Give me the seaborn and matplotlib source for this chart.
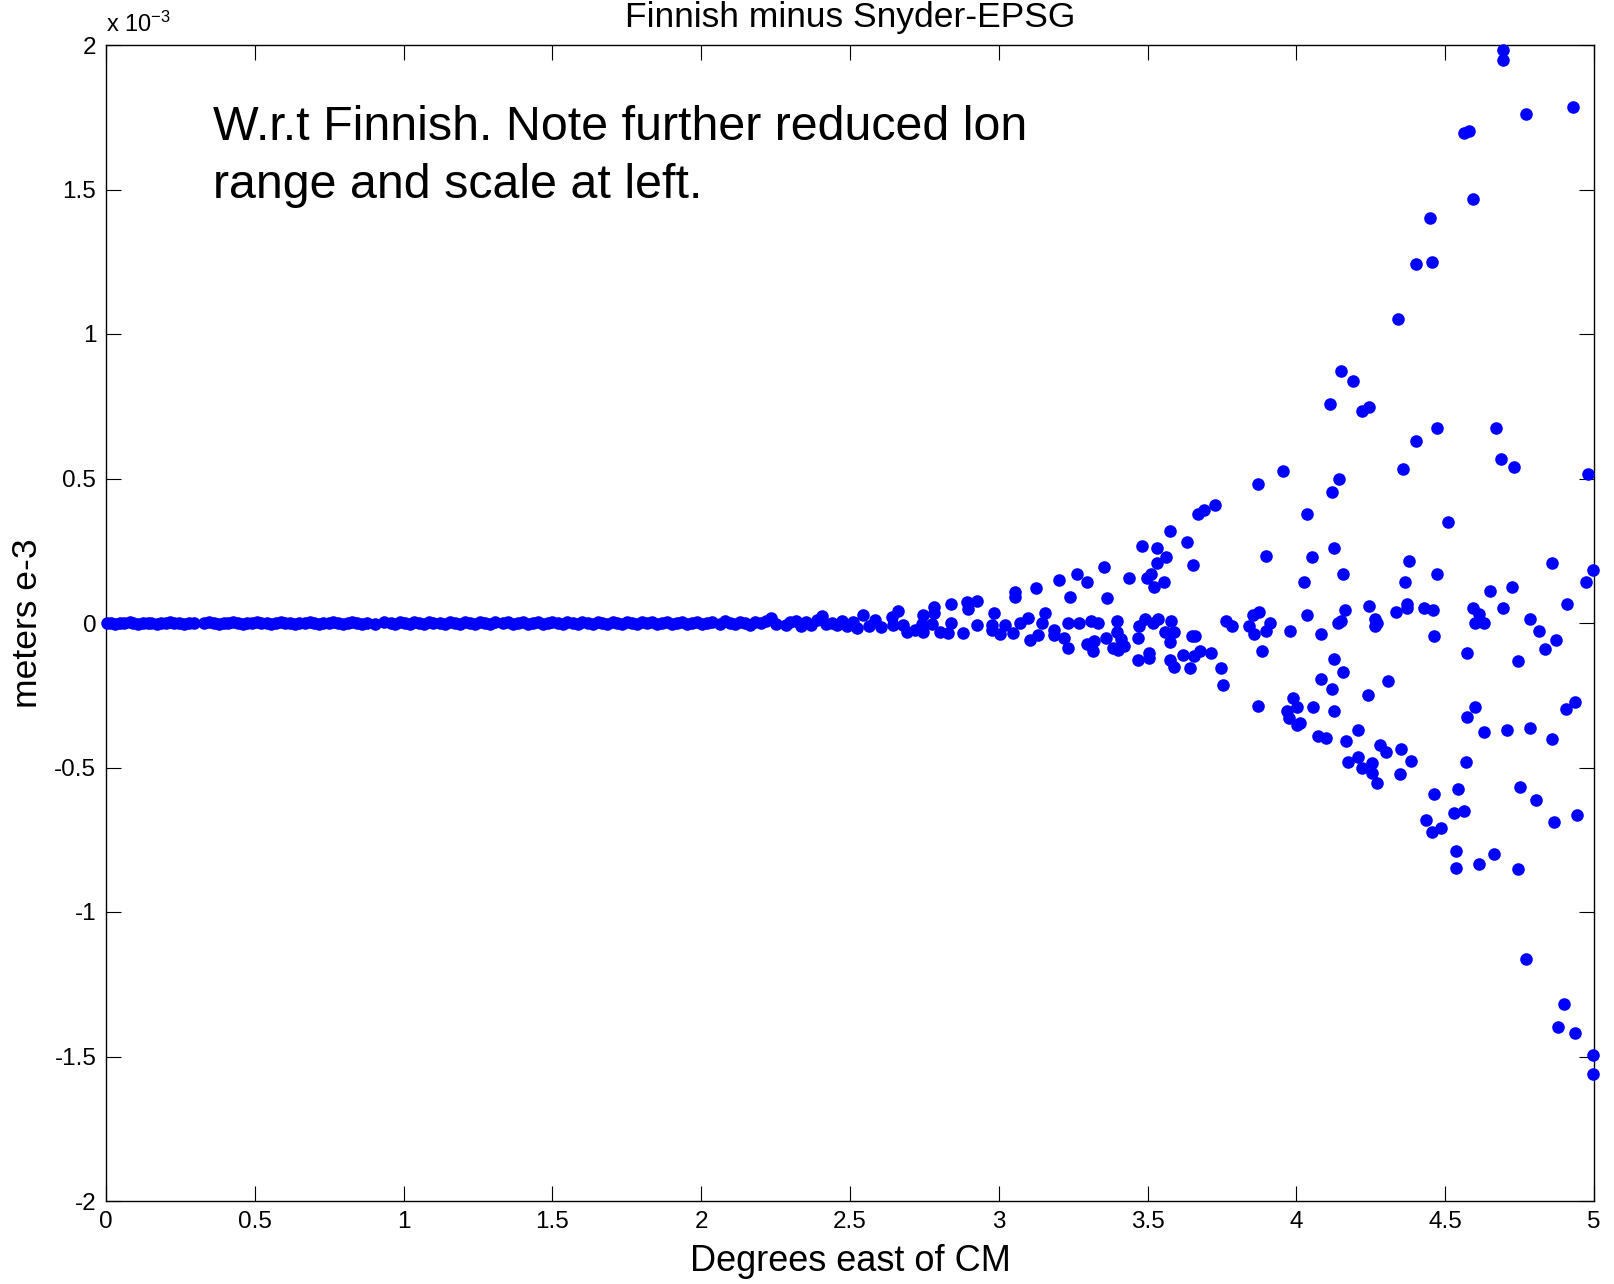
import matplotlib
matplotlib.use("Agg")
import matplotlib.pyplot as plt
import numpy as np
import pandas as pd
import seaborn as sns
from matplotlib.ticker import FuncFormatter

# ---------------- data (deviation in units of 1e-3 m) ----------------
# near-zero band, 0 - 2.5 degrees
lon_band = [
    0.003, 0.018, 0.030, 0.047, 0.062, 0.080, 0.092, 0.108, 0.125, 0.140,
    0.152, 0.170, 0.186, 0.200, 0.215, 0.228, 0.245, 0.262, 0.278, 0.295,
    0.330, 0.346, 0.362, 0.380, 0.395, 0.410, 0.428, 0.442, 0.460, 0.475,
    0.490, 0.508, 0.522, 0.540, 0.556, 0.570, 0.588, 0.603, 0.618, 0.636,
    0.650, 0.668, 0.684, 0.700, 0.716, 0.730, 0.748, 0.763, 0.780, 0.796,
    0.812, 0.828, 0.845, 0.860, 0.878,
    0.905, 0.935, 0.958, 0.972, 0.988, 1.005, 1.020, 1.035, 1.052, 1.068,
    1.085, 1.100,
    1.122, 1.140, 1.155, 1.172, 1.190, 1.205, 1.222, 1.240, 1.258, 1.275,
    1.292, 1.308,
    1.335, 1.350, 1.368, 1.385, 1.400, 1.418, 1.435, 1.452, 1.468, 1.485,
    1.500, 1.518, 1.535, 1.550, 1.568, 1.585, 1.600, 1.618, 1.635, 1.652,
    1.668, 1.685, 1.702, 1.718, 1.735, 1.752, 1.768, 1.785, 1.802, 1.818,
    1.835, 1.852, 1.868, 1.885, 1.902, 1.918, 1.935, 1.952, 1.968, 1.985,
    2.002, 2.020, 2.035,
    2.062, 2.080, 2.096, 2.112, 2.130, 2.148, 2.165, 2.182, 2.200, 2.218,
    2.236, 2.250,
    2.285, 2.300, 2.318, 2.335, 2.352, 2.370, 2.388, 2.405, 2.420, 2.438,
    2.455, 2.472, 2.490,
]
dev_band = [
    0.000, 0.000, -0.003, 0.000, 0.000, 0.002, 0.000, -0.002, 0.000, 0.000,
    0.000, -0.002, 0.000, 0.000, 0.002, 0.000, 0.000, -0.002, 0.000, 0.000,
    0.000, 0.002, 0.000, -0.002, 0.000, 0.000, 0.003, 0.000, -0.002, 0.000,
    0.000, 0.002, 0.000, 0.000, -0.003, 0.000, 0.002, 0.000, 0.000, -0.002,
    0.000, 0.000, 0.003, 0.000, -0.002, 0.000, 0.000, 0.002, 0.000, -0.003,
    0.000, 0.002, 0.000, -0.002, 0.000,
    -0.004, 0.004, 0.000, -0.003, 0.002, 0.000, -0.003, 0.003, 0.000, -0.002,
    0.003, 0.000,
    0.000, -0.003, 0.003, 0.000, -0.002, 0.004, 0.000, -0.003, 0.002, 0.000,
    -0.004, 0.003,
    0.000, 0.003, -0.002, 0.000, 0.004, -0.003, 0.000, 0.002, -0.004, 0.000,
    0.003, 0.000, -0.003, 0.004, 0.000, -0.002, 0.003, 0.000, -0.004, 0.002,
    0.000, -0.003, 0.004, 0.000, -0.002, 0.003, 0.000, -0.004, 0.002, 0.000,
    0.004, -0.003, 0.000, 0.002, -0.004, 0.000, 0.003, -0.002, 0.000, 0.004,
    -0.003, 0.000, 0.003,
    -0.004, 0.006, 0.000, -0.005, 0.004, 0.000, -0.006, 0.005, 0.000, 0.008,
    0.018, -0.004,
    -0.008, 0.004, 0.006, -0.010, 0.002, -0.006, 0.010, 0.024, -0.004, 0.000,
    -0.008, 0.006, -0.012,
]

# transition zone, 2.5 - 3.17 degrees
lon_mid = [
    2.511, 2.522, 2.545, 2.565, 2.584, 2.603, 2.640, 2.646, 2.662, 2.679,
    2.690, 2.718, 2.741, 2.746, 2.746, 2.774, 2.783, 2.783, 2.802, 2.830,
    2.839, 2.839, 2.879, 2.892, 2.898, 2.926, 2.926, 2.976, 2.976, 2.985,
    3.004, 3.021, 3.049, 3.054, 3.054, 3.071, 3.099, 3.105, 3.125, 3.133,
    3.144, 3.156,
]
dev_mid = [
    0.004, -0.019, 0.029, -0.011, 0.010, -0.013, 0.021, -0.007, 0.042, -0.007,
    -0.031, -0.025, -0.002, 0.029, -0.031, -0.002, 0.056, 0.036, -0.031, -0.033,
    0.065, 0.000, -0.033, 0.071, 0.050, 0.076, -0.007, -0.007, -0.025, 0.033,
    -0.038, -0.007, -0.033, 0.107, 0.090, 0.000, 0.016, -0.059, 0.122, -0.040,
    0.000, 0.033,
]

# widening fan, 3.17 - 5 degrees
lon_fan = [
    # upper branch
    4.695, 4.695, 4.929, 4.771, 4.562, 4.580, 4.595, 4.448, 4.402, 4.456,
    4.341, 4.151, 4.189, 4.114, 4.221, 4.245, 4.473, 4.670, 4.402,
    4.689, 4.732, 4.359, 4.980, 3.954, 3.872, 4.144, 4.120, 3.726, 3.688,
    3.669, 4.036, 4.510, 3.575, 3.631, 3.480, 3.530, 3.897, 4.126, 4.054,
    4.378, 4.859, 3.651, 3.561, 3.530, 3.352, 4.998, 4.157, 4.473, 3.264,
    3.201, 3.295, 3.436, 3.498, 3.512, 3.556, 4.024, 4.366, 4.973, 3.523,
    4.726, 4.650, 3.240, 3.365, 4.910, 4.245, 4.371, 4.371, 4.695, 4.430,
    4.458, 4.593, 4.163, 4.334, 3.873, 3.853, 4.036, 4.613, 4.264, 4.784,
    # around zero
    3.763, 3.911, 4.149, 4.141, 4.271, 4.600, 4.632, 3.232, 3.271, 3.309,
    3.334, 3.397, 3.491, 3.535, 3.579, 3.472, 3.517, 3.782, 3.840, 4.265,
    3.898, 3.979, 4.816, 3.184, 3.184, 3.397, 3.559, 3.588, 3.859, 4.081,
    4.462, 4.873, 3.220, 3.467, 3.649, 3.659, 3.359, 3.409, 3.575, 3.295,
    3.321, 3.422, 3.232, 3.385, 3.402, 4.835, 3.316, 3.884, 4.574, 3.676,
    3.714, 3.619, 3.655, 3.504, 3.504, 3.468, 3.575, 4.126, 4.745, 3.588,
    # lower branch
    3.643, 3.746, 4.157, 4.308, 4.081, 3.752, 4.120, 4.239, 3.987, 3.872,
    4.056, 4.126, 4.001, 3.970, 3.976, 4.001, 4.012, 4.601, 4.574, 4.936,
    4.905, 4.632, 4.707, 4.784, 4.859, 4.208, 4.074, 4.100, 4.168, 4.282,
    4.302, 4.353, 4.384, 4.569, 4.175, 4.208, 4.253, 4.221, 4.347, 4.253,
    4.271, 4.462, 4.543, 4.752, 4.804, 4.529, 4.563, 4.435, 4.454, 4.486,
    4.865, 4.942, 4.537, 4.664, 4.613, 4.537, 4.745, 4.771, 4.898, 4.878,
    4.936, 4.998, 4.998,
]
dev_fan = [
    1.983, 1.949, 1.786, 1.761, 1.694, 1.703, 1.468, 1.403, 1.241, 1.248,
    1.052, 0.872, 0.837, 0.759, 0.732, 0.748, 0.675, 0.675, 0.629,
    0.566, 0.540, 0.533, 0.514, 0.526, 0.480, 0.500, 0.455, 0.410, 0.390,
    0.377, 0.377, 0.351, 0.318, 0.279, 0.266, 0.260, 0.233, 0.260, 0.228,
    0.215, 0.208, 0.201, 0.228, 0.208, 0.195, 0.183, 0.169, 0.169, 0.169,
    0.149, 0.143, 0.156, 0.156, 0.169, 0.143, 0.143, 0.143, 0.143, 0.123,
    0.123, 0.110, 0.091, 0.085, 0.066, 0.059, 0.066, 0.051, 0.053, 0.053,
    0.046, 0.053, 0.046, 0.039, 0.039, 0.026, 0.026, 0.032, 0.014, 0.013,
    0.007, 0.000, 0.007, 0.000, 0.000, 0.000, 0.000, 0.000, 0.000, 0.007,
    0.000, 0.007, 0.014, 0.014, 0.007, -0.011, 0.000, -0.011, -0.011, -0.011,
    -0.026, -0.026, -0.026, -0.024, -0.041, -0.032, -0.032, -0.032, -0.039, -0.039,
    -0.046, -0.059, -0.053, -0.052, -0.046, -0.046, -0.052, -0.056, -0.066, -0.071,
    -0.064, -0.078, -0.085, -0.085, -0.092, -0.091, -0.098, -0.098, -0.105, -0.098,
    -0.105, -0.110, -0.114, -0.105, -0.121, -0.128, -0.128, -0.124, -0.130, -0.151,
    -0.156, -0.156, -0.168, -0.201, -0.194, -0.215, -0.228, -0.248, -0.260, -0.286,
    -0.292, -0.306, -0.292, -0.306, -0.329, -0.352, -0.345, -0.292, -0.325, -0.272,
    -0.299, -0.377, -0.371, -0.364, -0.403, -0.371, -0.390, -0.397, -0.409, -0.422,
    -0.448, -0.436, -0.476, -0.482, -0.482, -0.462, -0.485, -0.501, -0.524, -0.518,
    -0.553, -0.593, -0.573, -0.566, -0.611, -0.657, -0.651, -0.683, -0.723, -0.709,
    -0.690, -0.663, -0.788, -0.801, -0.833, -0.847, -0.852, -1.164, -1.320, -1.398,
    -1.418, -1.496, -1.562,
]

x_ticks = [0, 0.5, 1, 1.5, 2, 2.5, 3, 3.5, 4, 4.5, 5]
y_ticks = [-2, -1.5, -1, -0.5, 0, 0.5, 1, 1.5, 2]

# ---------------- plotting ----------------
sns.set_style("ticks")
plt.rcParams["font.family"] = ["Liberation Sans", "DejaVu Sans"]
plt.rcParams["axes.unicode_minus"] = False
plt.rcParams["mathtext.fontset"] = "custom"
plt.rcParams["mathtext.rm"] = "Liberation Sans"
plt.rcParams["mathtext.it"] = "Liberation Sans"
plt.rcParams["text.color"] = "black"
plt.rcParams["axes.labelcolor"] = "black"
plt.rcParams["xtick.color"] = "black"
plt.rcParams["ytick.color"] = "black"

df = pd.DataFrame({
    "lon": lon_band + lon_mid + lon_fan,
    "dev": dev_band + dev_mid + dev_fan,
})

W, H = 1614, 1284
fig = plt.figure(figsize=(W / 100, H / 100), dpi=100)
ax = fig.add_axes([106 / W, 83 / H, 1488 / W, 1156 / H])

sns.scatterplot(data=df, x="lon", y="dev", ax=ax, s=82, color="#0000ff",
                linewidth=0, clip_on=False, legend=False, zorder=3)

ax.set_xlim(0, 5)
ax.set_ylim(-2, 2)
ax.set_xticks(x_ticks)
ax.set_yticks(y_ticks)
fmt = FuncFormatter(lambda v, p: f"{v:g}")
ax.xaxis.set_major_formatter(fmt)
ax.yaxis.set_major_formatter(fmt)
ax.tick_params(direction="in", length=10.5, width=0.8, top=True, right=True,
               labelsize=17.5, pad=7, colors="black")
for sp in ax.spines.values():
    sp.set_visible(True)
    sp.set_color("black")
    sp.set_linewidth(1.0)

ax.set_xlabel("Degrees east of CM", fontsize=26, color="black")
ax.xaxis.set_label_coords(0.5, -0.037)
ax.set_ylabel("meters e-3", fontsize=25.5, color="black")
ax.yaxis.set_label_coords(-0.042, 0.5)
ax.set_title("Finnish minus Snyder-EPSG", fontsize=25.5, pad=13, color="black")

ax.text(0.36, 1.671, "W.r.t Finnish. Note further reduced lon", fontsize=34.8,
        color="black")
ax.text(0.36, 1.471, "range and scale at left.", fontsize=34.8, color="black")
ax.annotate("x 10$^{\\mathregular{-3}}$", xy=(0, 1), xycoords="axes fraction",
            xytext=(0, 13), textcoords="offset pixels", fontsize=17,
            ha="left", va="baseline", color="black")

fig.savefig("out.png", dpi=100)
